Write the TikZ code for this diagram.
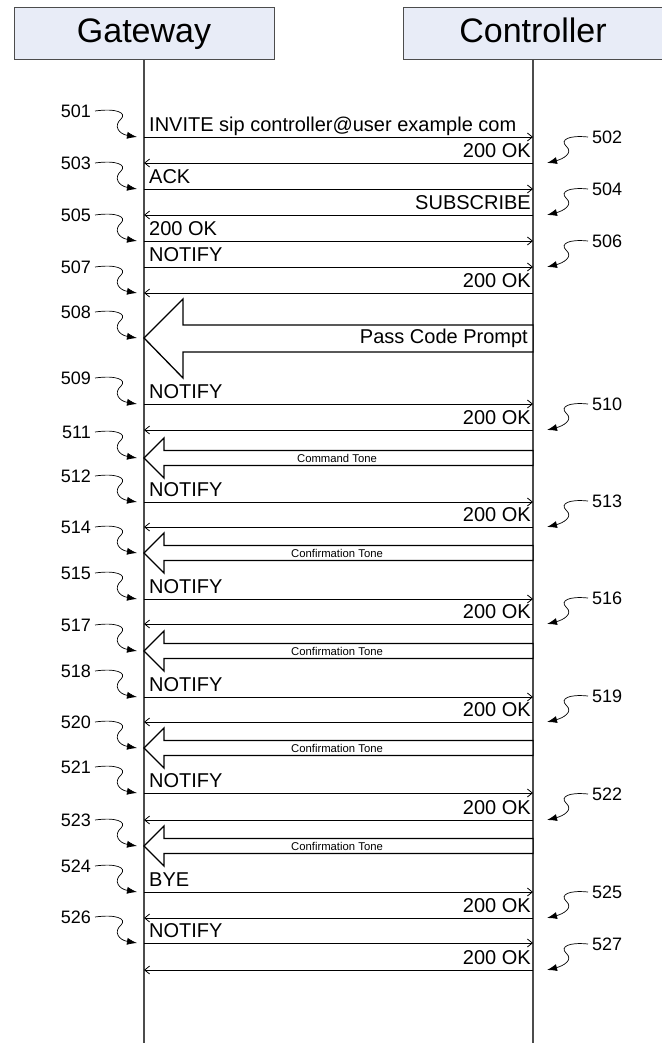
\documentclass[tikz,border=0pt]{standalone}
\usepackage{fontspec}
\setmainfont{Liberation Sans}
\usetikzlibrary{arrows.meta}

\definecolor{headfill}{RGB}{232,236,247}

\tikzset{
  party/.style={draw=black!70, fill=headfill, minimum width=260, minimum height=52,
    inner sep=0, text height=26, text depth=6, font=\fontsize{34}{36}\selectfont},
  life/.style={line width=1.1pt, black!70},
  msg/.style={-{Straight Barb[length=5pt,width=8pt]}, line width=0.8pt},
  msglbl/.style={inner sep=0, font=\fontsize{20}{22}\selectfont},
  tone/.style={draw, line width=1.3pt, fill=white, line join=miter},
  tonelbl/.style={inner sep=0, font=\fontsize{11.3}{12}\selectfont},
  refno/.style={inner sep=0, font=\fontsize{18}{20}\selectfont},
  lead/.style={-{Latex[length=10pt,width=7pt]}, line width=0.7pt},
}

\begin{document}
\begin{tikzpicture}[x=1pt,y=-1pt]
  \useasboundingbox (0,0) rectangle (661,1043);

  % the two parties and their lifelines
  \node[party] (gw)  at (144,33) {Gateway};
  \node[party] (ctl) at (533,33) {Controller};
  \coordinate (gwend)  at (144,1043);
  \coordinate (ctlend) at (533,1043);
  \draw[life] (gw.south) -- (gwend);
  \draw[life] (ctl.south) -- (ctlend);

  % gateway -> controller
  \foreach \y/\txt [count=\i] in {137/INVITE sip controller@user example com, 189/ACK,
      241/200 OK, 267/NOTIFY, 404/NOTIFY, 502/NOTIFY, 599/NOTIFY, 697/NOTIFY,
      793/NOTIFY, 892/BYE, 943/NOTIFY} {
    \coordinate (ga\i) at (144,\y);
    \coordinate (ca\i) at (533,\y);
    \draw[msg] (ga\i) -- (ca\i);
    \node[msglbl, anchor=base west] (la\i) at ([xshift=5,yshift=5.5]ga\i) {\txt};
  }

  % controller -> gateway
  \foreach \y/\txt [count=\i] in {163/200 OK, 215/SUBSCRIBE, 293/200 OK, 430/200 OK,
      527/200 OK, 624/200 OK, 722/200 OK, 820/200 OK, 918/200 OK, 970/200 OK} {
    \coordinate (cb\i) at (533,\y);
    \coordinate (gb\i) at (144,\y);
    \draw[msg] (cb\i) -- (gb\i);
    \node[msglbl, anchor=base east] (lb\i) at ([xshift=-2,yshift=5.5]cb\i) {\txt};
  }

  % media sent to the gateway
  \draw[tone] (144,338) -- (183,299) -- (183,325) -- (533,325) -- (533,352)
    -- (183,352) -- (183,378) -- cycle;
  \node[msglbl, anchor=east] (prompt) at (528,338) {Pass Code Prompt};
  \foreach \y/\txt [count=\i] in {458/Command Tone, 553/Confirmation Tone,
      651/Confirmation Tone, 748/Confirmation Tone, 846/Confirmation Tone} {
    \draw[tone] (144,\y) -- (164,\y-20) -- (164,\y-7.5) -- (533,\y-7.5)
      -- (533,\y+7.5) -- (164,\y+7.5) -- (164,\y+20) -- cycle;
    \node[tonelbl] (tn\i) at (337,\y) {\txt};
  }

  % reference numerals, left side
  \foreach \n/\y in {501/137, 503/189, 505/241, 507/293, 508/338, 509/404, 511/458,
      512/502, 514/553, 515/599, 517/651, 518/697, 520/748, 521/793, 523/846,
      524/892, 526/943} {
    \coordinate (t\n) at (137,\y);
    \node[refno, anchor=east] (r\n) at (91,\y-26) {\n};
    \draw[lead] ([xshift=4]r\n.east) .. controls +(22,-3) and +(6,-6) .. ++(26,8)
      .. controls +(-8,7) and +(-18,-3) .. (t\n);
  }

  % reference numerals, right side
  \foreach \n/\y in {502/163, 504/215, 506/267, 510/430, 513/527, 516/624, 519/722,
      522/820, 525/918, 527/970} {
    \coordinate (t\n) at (547,\y);
    \node[refno, anchor=west] (r\n) at (592,\y-26) {\n};
    \draw[lead] ([xshift=-4]r\n.west) .. controls +(-20,-2) and +(-6,-6) .. ++(-22,9)
      .. controls +(8,7) and +(16,-4) .. (t\n);
  }
\end{tikzpicture}
\end{document}
